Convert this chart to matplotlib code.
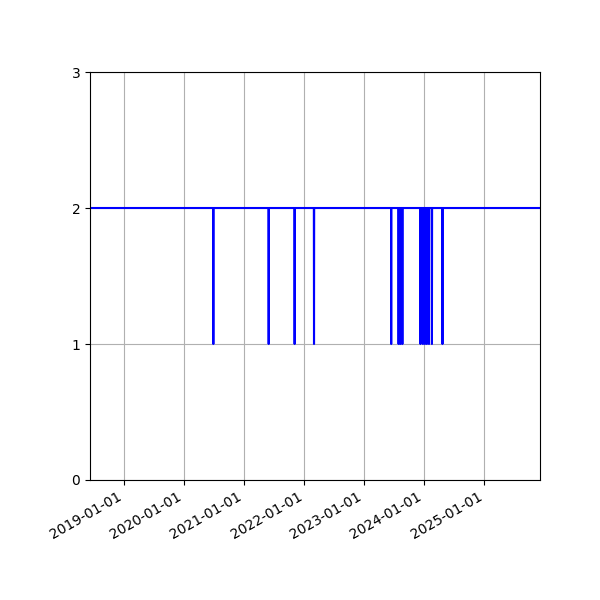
import pandas as pd
import matplotlib
matplotlib.use("Agg")
import matplotlib.pyplot as plt
import matplotlib.dates as mdates

# data
start_date = "2018-06-06"
end_date = "2025-12-06"
normal_value = 2
dip_value = 1
dip_dates = [
    "2020-06-26", "2021-05-29", "2021-11-03", "2022-03-01",
    "2023-06-14", "2023-07-29", "2023-08-09", "2023-08-21",
    "2023-12-09", "2023-12-24", "2024-01-05", "2024-01-17",
    "2024-01-30", "2024-02-17", "2024-04-21",
]
y_ticks = [0, 1, 2, 3]

# daily series: normal everywhere except the dip days
days = pd.date_range(start_date, end_date, freq="D")
series = pd.Series(normal_value, index=days)
series[pd.to_datetime(dip_dates)] = dip_value

fig, ax = plt.subplots(figsize=(6, 6), dpi=100)
ax.plot(series.index, series.values, color="blue", linewidth=1.5)

ax.set_xlim(days[0], days[-1])
ax.set_ylim(0, 3)
ax.set_yticks(y_ticks)
ax.xaxis.set_major_locator(mdates.YearLocator())
ax.xaxis.set_major_formatter(mdates.DateFormatter("%Y-%m-%d"))
ax.grid(True)

fig.autofmt_xdate()
fig.subplots_adjust(left=0.15, right=0.9, top=0.88, bottom=0.2)
fig.savefig("out.png", dpi=100)
